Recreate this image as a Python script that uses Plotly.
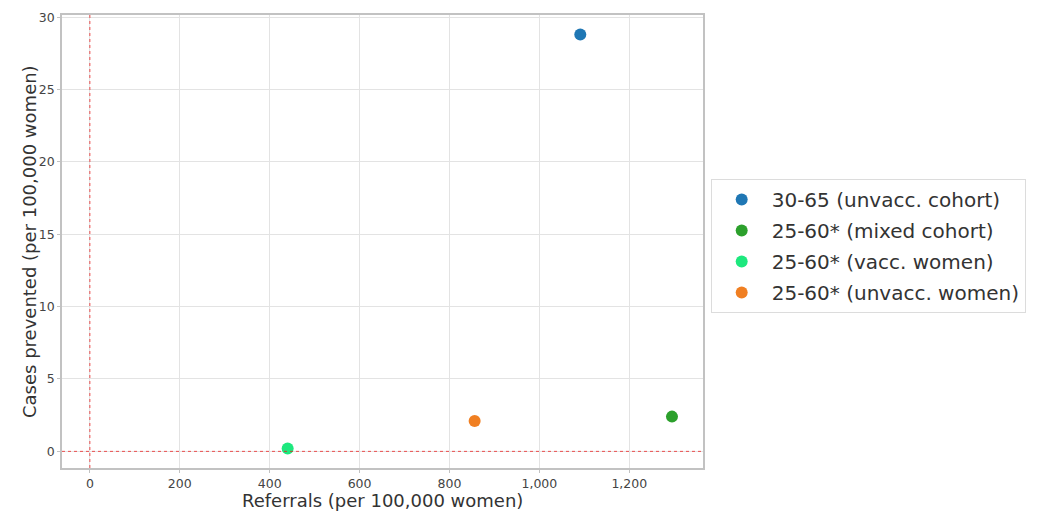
import plotly.graph_objects as go

# Screening strategies: referrals vs. cases prevented (per 100,000 women)
strategies = [
    "30-65 (unvacc. cohort)",
    "25-60* (mixed cohort)",
    "25-60* (vacc. women)",
    "25-60* (unvacc. women)",
]
referrals = [1091, 1295, 440, 856]
cases_prevented = [28.8, 2.4, 0.2, 2.1]
colors = ["#1f77b4", "#2ca02c", "#1de87e", "#f07f22"]

x_ticks = [0, 200, 400, 600, 800, 1000, 1200]
y_ticks = [0, 5, 10, 15, 20, 25, 30]

x_title = "Referrals (per 100,000 women)"
y_title = "Cases prevented (per 100,000 women)"

FONT = "DejaVu Sans"

fig = go.Figure()
for name, xv, yv, c in zip(strategies, referrals, cases_prevented, colors):
    fig.add_trace(go.Scatter(
        x=[xv], y=[yv], mode="markers", name=name, legendgroup=name,
        marker=dict(color=c, size=12, line=dict(width=0)),
    ))

# Reference lines at the origin
ref_line = dict(color="rgba(235,25,25,0.75)", width=1, dash="dot")
fig.add_vline(x=0, line=ref_line, layer="above")
fig.add_hline(y=0, line=ref_line, layer="above")

axis_common = dict(
    showgrid=True, gridcolor="#e3e3e3", gridwidth=1,
    showline=True, linecolor="#c2c2c2", linewidth=1.5, mirror=True,
    ticks="outside", ticklen=3, tickcolor="#c2c2c2",
    zeroline=False, automargin=False,
    tickfont=dict(family=FONT, size=12.5, color="#444"),
)

# Axis titles placed as paper-anchored labels so they sit just outside the tick labels
title_font = dict(family=FONT, size=18, color="#333")
fig.add_annotation(
    text=x_title, xref="paper", yref="paper", x=0.5, y=0,
    xanchor="center", yanchor="top", yshift=-21, borderpad=0,
    showarrow=False, font=title_font,
)
fig.add_annotation(
    text=y_title, xref="paper", yref="paper", x=0, y=0.5,
    xanchor="right", yanchor="middle", xshift=-21, textangle=-90, borderpad=0,
    showarrow=False, font=title_font,
)

fig.update_layout(
    width=1038, height=514,
    margin=dict(l=62, r=332, t=15, b=46),
    paper_bgcolor="white", plot_bgcolor="white",
    font=dict(family=FONT, color="#333"),
    xaxis=dict(
        range=[-62, 1364], tickvals=x_ticks,
        ticktext=[f"{v:,}" for v in x_ticks],
        **axis_common,
    ),
    yaxis=dict(
        range=[-1.15, 30.15], tickvals=y_ticks,
        **axis_common,
    ),
    legend=dict(
        x=1.012, y=0.49, xanchor="left", yanchor="middle",
        font=dict(family=FONT, size=20, color="#333"),
        bordercolor="#dcdcdc", borderwidth=1, bgcolor="white",
        itemsizing="trace", itemwidth=50, tracegroupgap=2,
    ),
    showlegend=True,
)

fig.write_html("out.html")
